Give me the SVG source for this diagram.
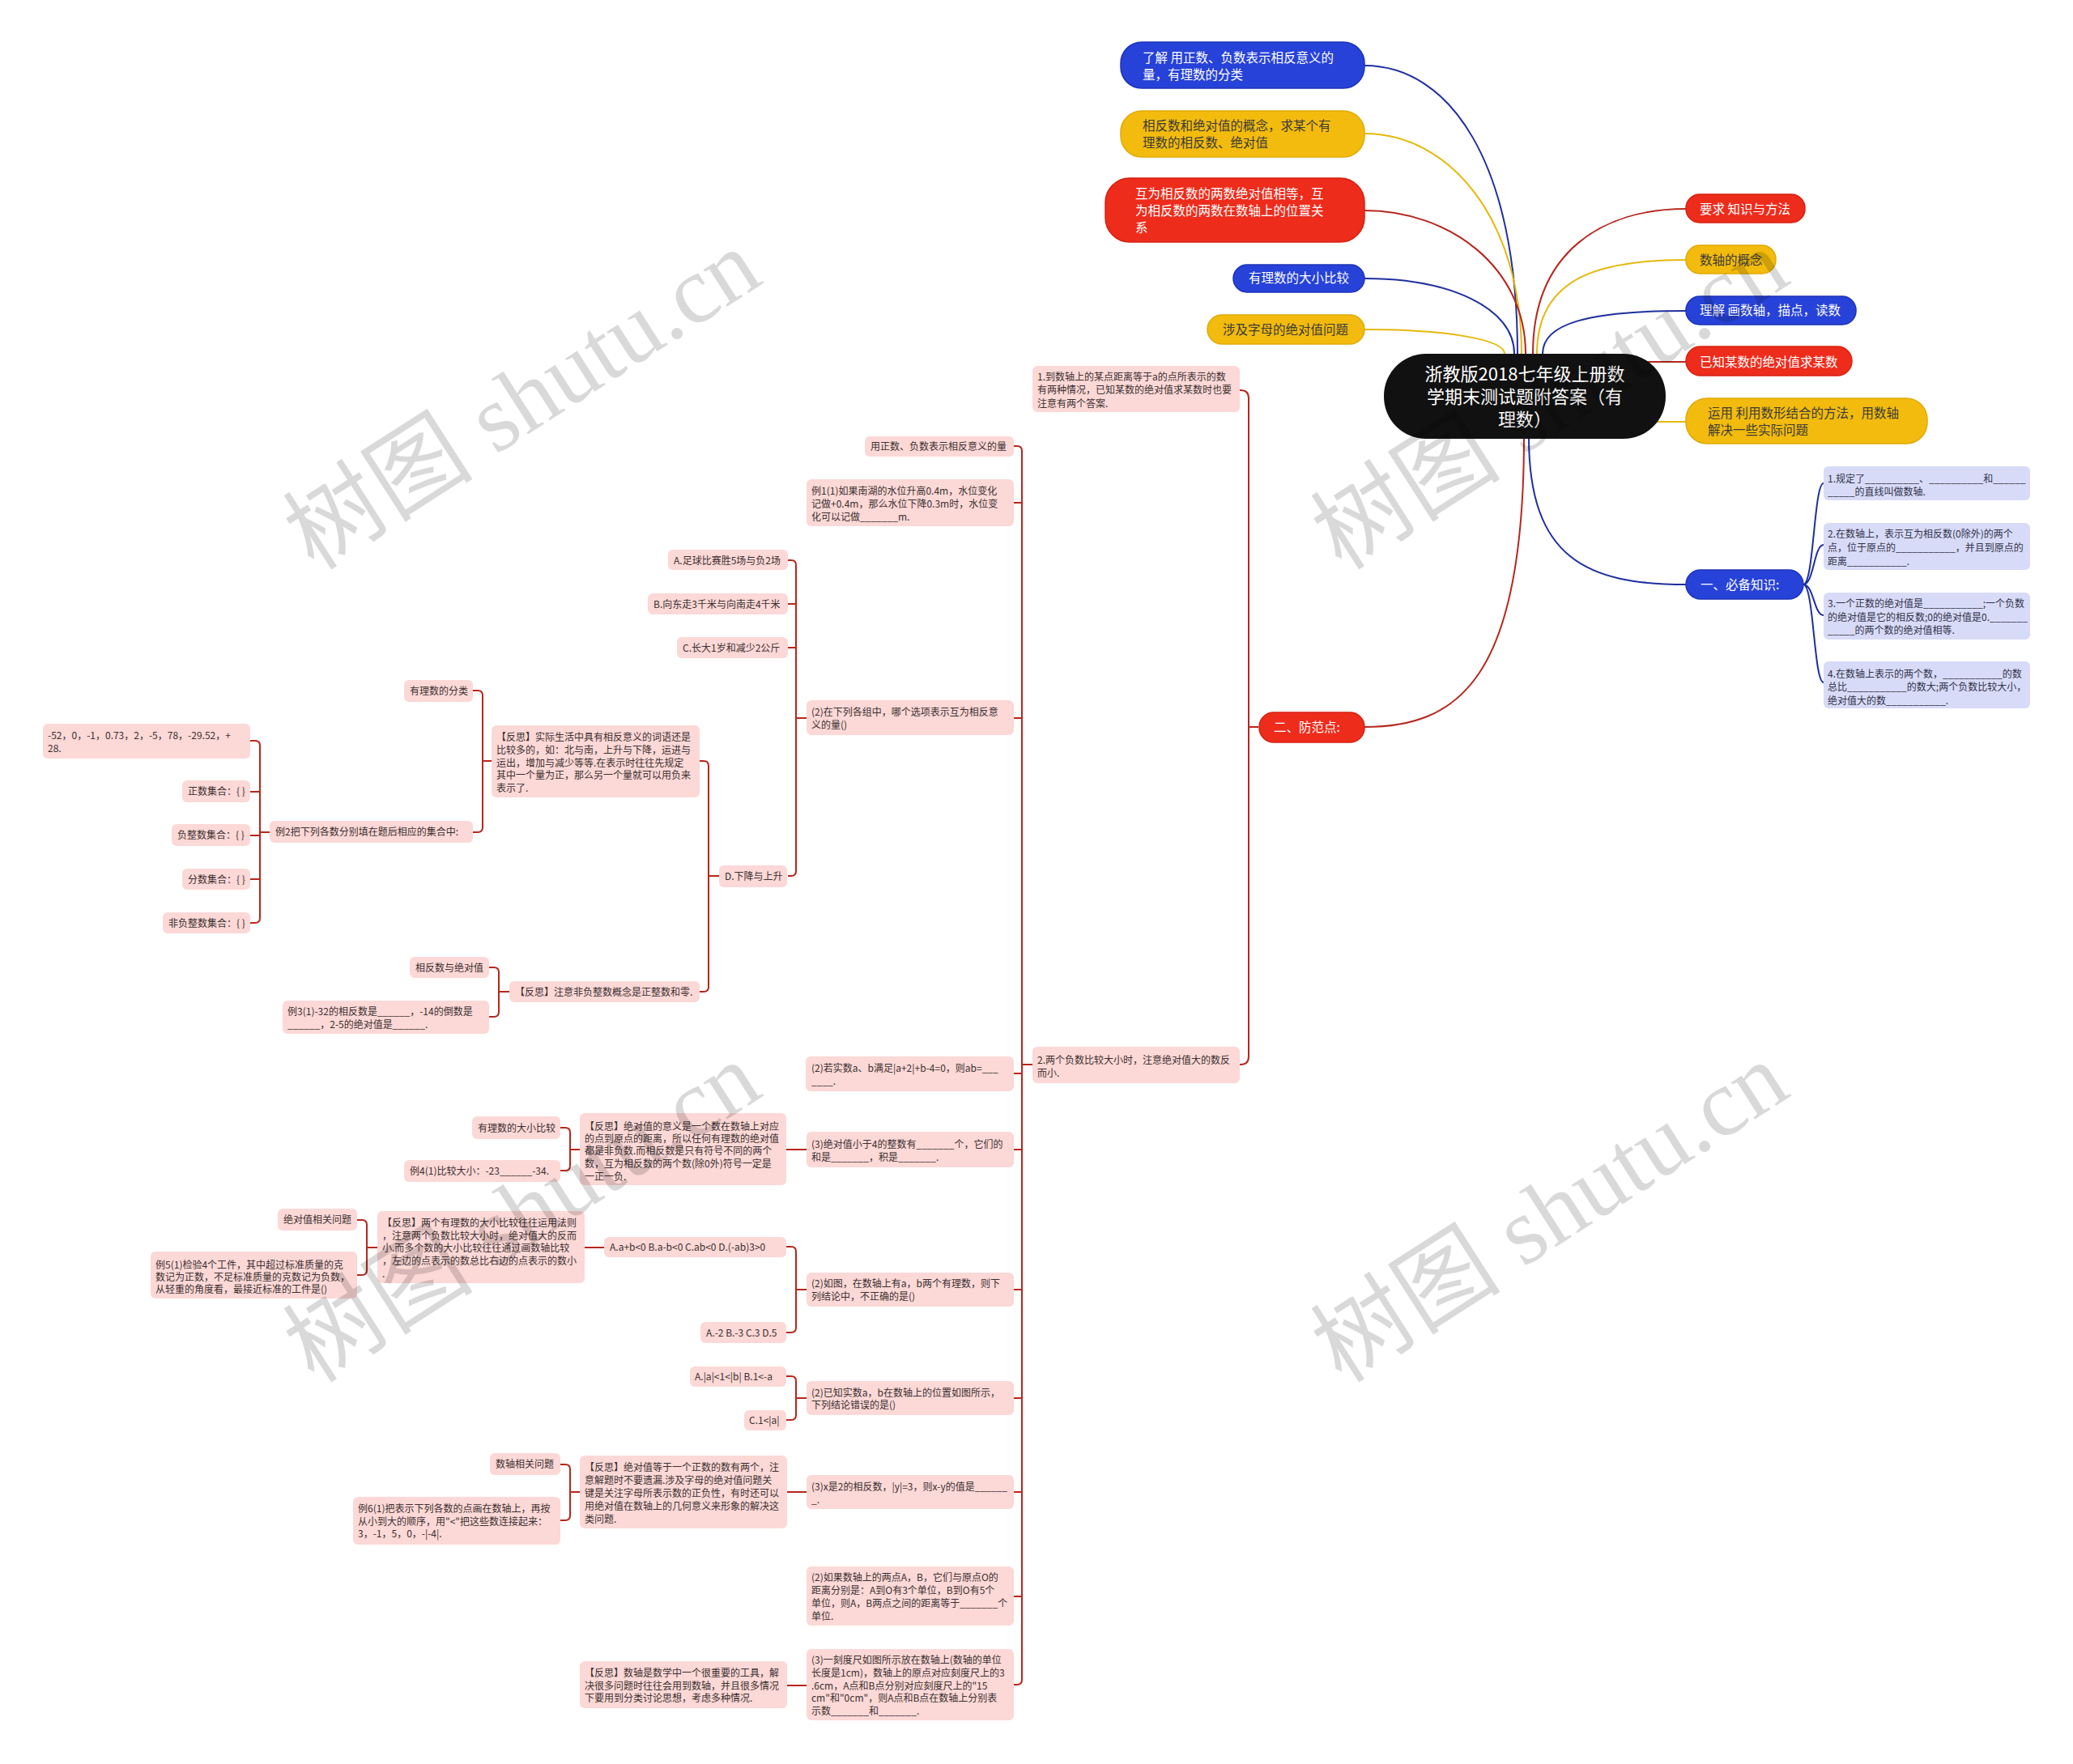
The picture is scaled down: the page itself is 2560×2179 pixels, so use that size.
<svg xmlns="http://www.w3.org/2000/svg" width="2560" height="2179" viewBox="0 0 2560 2179">
<style>
text{font-family:"Noto Sans CJK SC","Noto Sans",sans-serif;}
.bg{fill:#ffffff}
.pk{fill:#fcd8d6}
.lv{fill:#d8dbf7}
.bl{fill:#2742d8;stroke:#1d33b8;stroke-width:1.5}
.ye{fill:#f2bb0e;stroke:#e0aa05;stroke-width:1.5}
.rd{fill:#ee2c1c;stroke:#d62010;stroke-width:1.5}
.t12{font-size:12px;fill:#3a3030}
.t12b{font-size:12px;fill:#30324a}
.tw{font-size:15.5px;fill:#ffffff}
.td{font-size:15.5px;fill:#3a3a3a}
.tc{font-size:22px;fill:#ffffff;text-anchor:middle}
.cr{fill:none;stroke:#b8261c;stroke-width:2}
.cb{fill:none;stroke:#1f2f9e;stroke-width:2}
.cy{fill:none;stroke:#e6b80c;stroke-width:2}
.cR{fill:none;stroke:#b5281e;stroke-width:2}
.wm{font-family:"Liberation Serif","Noto Sans CJK SC",serif;font-size:118px;fill:#000;fill-opacity:0.15}
</style>
<rect class="bg" x="0" y="0" width="2560" height="2179"/>
<g id="connectors">
<path class="cb" d="M1685,81 C1790,81 1874,200 1874,437"/>
<path class="cy" d="M1685,165 C1790,165 1879,270 1879,437"/>
<path class="cR" d="M1685,260 C1790,260 1884,330 1884,437"/>
<path class="cb" d="M1685,344 C1790,344 1870,380 1870,437"/>
<path class="cy" d="M1685,407 C1790,407 1858,420 1858,437"/>
<path class="cR" d="M1893,437 C1893,310 1980,258 2082,258"/>
<path class="cy" d="M1898,437 C1898,340 1980,321 2082,321"/>
<path class="cb" d="M1905,437 C1905,400 1960,384 2082,384"/>
<path class="cR" d="M2030,447 H2082"/>
<path class="cy" d="M2044,521 H2082"/>
<path class="cb" d="M1888,540 C1888,690 1960,722 2082,722"/>
<path class="cR" d="M1882,540 C1882,840 1800,898 1685,898"/>
<path class="cb" d="M2227,722 C2240,722 2240,597 2252,597 M2227,722 C2240,722 2240,673 2252,673 M2227,722 C2240,722 2240,760 2252,760 M2227,722 C2240,722 2240,843 2252,843"/>
<path class="cr" d="M1531,482 H1532 Q1542,482 1542,492 V1305 Q1542,1315 1532,1315 H1531 M1542,898 H1554"/>
<path class="cr" d="M1252,551 H1256 Q1262,551 1262,557 V2075 Q1262,2081 1256,2081 H1252 M1252,621 H1262 M1252,887 H1262 M1252,1326 H1262 M1252,1420 H1262 M1252,1593 H1262 M1252,1727 H1262 M1252,1843 H1262 M1252,1972 H1262 M1262,1315 H1275"/>
<path class="cr" d="M973,692 H977 Q983,692 983,698 V1076 Q983,1082 977,1082 H973 M973,746 H983 M973,800 H983 M983,887 H996"/>
<path class="cr" d="M864,940 H869 Q875,940 875,946 V1219 Q875,1225 869,1225 H864 M875,1082 H888"/>
<path class="cr" d="M584,853 H590 Q596,853 596,859 V1022 Q596,1028 590,1028 H584 M596,940 H607"/>
<path class="cr" d="M309,915 H315 Q321,915 321,921 V1134 Q321,1140 315,1140 H309 M309,978 H321 M309,1032 H321 M309,1086 H321 M321,1028 H333"/>
<path class="cr" d="M604,1195 H610 Q616,1195 616,1201 V1250 Q616,1256 610,1256 H604 M616,1225 H629"/>
<path class="cr" d="M971,1420 H996"/>
<path class="cr" d="M692,1393 H698 Q704,1393 704,1399 V1440 Q704,1446 698,1446 H692 M704,1420 H716"/>
<path class="cr" d="M971,1540 H977 Q983,1540 983,1546 V1640 Q983,1646 977,1646 H971 M983,1593 H996"/>
<path class="cr" d="M722,1541 H746"/>
<path class="cr" d="M441,1507 H447 Q453,1507 453,1513 V1569 Q453,1575 447,1575 H441 M453,1541 H466"/>
<path class="cr" d="M971,1700 H977 Q983,1700 983,1706 V1748 Q983,1754 977,1754 H971 M983,1727 H996"/>
<path class="cr" d="M972,1843 H996"/>
<path class="cr" d="M692,1809 H698 Q704,1809 704,1815 V1872 Q704,1878 698,1878 H692 M704,1843 H716"/>
<path class="cr" d="M972,2082 H996"/>
</g>

<g id="center">
<rect x="1709" y="437" width="348" height="105" rx="52" fill="#111111"/>
<text class="tc" x="1883" y="470">浙教版2018七年级上册数</text>
<text class="tc" x="1883" y="498">学期末测试题附答案（有</text>
<text class="tc" x="1883" y="526">理数）</text>
</g>

<g id="n-l1"><rect class="bl" x="1384" y="52" width="301" height="57" rx="26"/>
<text class="tw" x="1411" y="77">了解 用正数、负数表示相反意义的</text><text class="tw" x="1411" y="98">量，有理数的分类</text></g>
<g id="n-l2"><rect class="ye" x="1384" y="137" width="301" height="57" rx="26"/>
<text class="td" x="1411" y="161">相反数和绝对值的概念，求某个有</text><text class="td" x="1411" y="182">理数的相反数、绝对值</text></g>
<g id="n-l3"><rect class="rd" x="1365" y="220" width="320" height="79" rx="30"/>
<text class="tw" x="1402" y="245">互为相反数的两数绝对值相等，互</text><text class="tw" x="1402" y="266">为相反数的两数在数轴上的位置关</text><text class="tw" x="1402" y="287">系</text></g>
<g id="n-l4"><rect class="bl" x="1523" y="327" width="162" height="34" rx="17"/>
<text class="tw" x="1542" y="349">有理数的大小比较</text></g>
<g id="n-l5"><rect class="ye" x="1491" y="389" width="194" height="36" rx="18"/>
<text class="td" x="1510" y="413">涉及字母的绝对值问题</text></g>

<g id="n-r1"><rect class="rd" x="2082" y="240" width="147" height="35" rx="17"/>
<text class="tw" x="2099" y="264">要求 知识与方法</text></g>
<g id="n-r2"><rect class="ye" x="2082" y="303" width="111" height="35" rx="17"/>
<text class="td" x="2099" y="327">数轴的概念</text></g>
<g id="n-r3"><rect class="bl" x="2082" y="366" width="210" height="35" rx="17"/>
<text class="tw" x="2099" y="389">理解 画数轴，描点，读数</text></g>
<g id="n-r4"><rect class="rd" x="2082" y="428" width="205" height="36" rx="18"/>
<text class="tw" x="2099" y="453">已知某数的绝对值求某数</text></g>
<g id="n-r5"><rect class="ye" x="2082" y="492" width="298" height="56" rx="26"/>
<text class="td" x="2109" y="516">运用 利用数形结合的方法，用数轴</text><text class="td" x="2109" y="537">解决一些实际问题</text></g>
<g id="n-r6"><rect class="bl" x="2082" y="704" width="145" height="36" rx="18"/>
<text class="tw" x="2100" y="728">一、必备知识:</text></g>
<g id="n-r7"><rect class="rd" x="1555" y="880" width="130" height="37" rx="18"/>
<text class="tw" x="1573" y="904">二、防范点:</text></g>

<g id="k1"><rect class="lv" x="2252" y="576" width="255" height="42" rx="6"/>
<text class="t12b" x="2257" y="595.5">1.规定了__________、__________和______</text><text class="t12b" x="2257" y="611.5">_____的直线叫做数轴.</text></g>
<g id="k2"><rect class="lv" x="2252" y="646" width="255" height="58" rx="6"/>
<text class="t12b" x="2257" y="663.5">2.在数轴上，表示互为相反数(0除外)的两个</text><text class="t12b" x="2257" y="680.5">点，位于原点的___________，并且到原点的</text><text class="t12b" x="2257" y="697.5">距离___________.</text></g>
<g id="k3"><rect class="lv" x="2252" y="732" width="255" height="58" rx="6"/>
<text class="t12b" x="2257" y="749.5">3.一个正数的绝对值是___________;一个负数</text><text class="t12b" x="2257" y="766.5">的绝对值是它的相反数;0的绝对值是0._______</text><text class="t12b" x="2257" y="782.5">_____的两个数的绝对值相等.</text></g>
<g id="k4"><rect class="lv" x="2252" y="817" width="255" height="58" rx="6"/>
<text class="t12b" x="2257" y="836.5">4.在数轴上表示的两个数，___________的数</text><text class="t12b" x="2257" y="852.5">总比___________的数大;两个负数比较大小，</text><text class="t12b" x="2257" y="869.5">绝对值大的数___________.</text></g>

<g id="pA"><rect class="pk" x="1275" y="452" width="256" height="57" rx="6"/>
<text class="t12" x="1281" y="470">1.到数轴上的某点距离等于a的点所表示的数</text><text class="t12" x="1281" y="486">有两种情况，已知某数的绝对值求某数时也要</text><text class="t12" x="1281" y="502.5">注意有两个答案.</text></g>
<g id="pB"><rect class="pk" x="1275" y="1293" width="256" height="45" rx="6"/>
<text class="t12" x="1281" y="1313.5">2.两个负数比较大小时，注意绝对值大的数反</text><text class="t12" x="1281" y="1329.5">而小.</text></g>

<g id="a1"><rect class="pk" x="1068" y="539" width="184" height="25" rx="6"/>
<text class="t12" x="1075" y="555.5">用正数、负数表示相反意义的量</text></g>
<g id="a2"><rect class="pk" x="996" y="592" width="256" height="58" rx="6"/>
<text class="t12" x="1002" y="610.5">例1(1)如果南湖的水位升高0.4m，水位变化</text><text class="t12" x="1002" y="626.5">记做+0.4m，那么水位下降0.3m时，水位变</text><text class="t12" x="1002" y="642.5">化可以记做_______m.</text></g>
<g id="a3"><rect class="pk" x="996" y="865" width="256" height="43" rx="6"/>
<text class="t12" x="1002" y="883.5">(2)在下列各组中，哪个选项表示互为相反意</text><text class="t12" x="1002" y="899.5">义的量()</text></g>
<g id="a4"><rect class="pk" x="995" y="1305" width="257" height="43" rx="6"/>
<text class="t12" x="1002" y="1323.5">(2)若实数a、b满足|a+2|+b-4=0，则ab=___</text><text class="t12" x="1002" y="1339.5">____.</text></g>
<g id="a5"><rect class="pk" x="996" y="1398" width="256" height="44" rx="6"/>
<text class="t12" x="1002" y="1417.5">(3)绝对值小于4的整数有_______个，它们的</text><text class="t12" x="1002" y="1433.5">和是_______，积是_______.</text></g>
<g id="a6"><rect class="pk" x="996" y="1572" width="256" height="42" rx="6"/>
<text class="t12" x="1002" y="1589.5">(2)如图，在数轴上有a，b两个有理数，则下</text><text class="t12" x="1002" y="1605.5">列结论中，不正确的是()</text></g>
<g id="a7"><rect class="pk" x="996" y="1706" width="256" height="42" rx="6"/>
<text class="t12" x="1002" y="1724.5">(2)已知实数a，b在数轴上的位置如图所示，</text><text class="t12" x="1002" y="1740">下列结论错误的是()</text></g>
<g id="a8"><rect class="pk" x="996" y="1822" width="256" height="42" rx="6"/>
<text class="t12" x="1002" y="1840.5">(3)x是2的相反数，|y|=3，则x-y的值是______</text><text class="t12" x="1002" y="1856.5">_.</text></g>
<g id="a9"><rect class="pk" x="996" y="1935" width="256" height="73" rx="6"/>
<text class="t12" x="1002" y="1952.5">(2)如果数轴上的两点A，B，它们与原点O的</text><text class="t12" x="1002" y="1968.5">距离分别是：A到O有3个单位，B到O有5个</text><text class="t12" x="1002" y="1984.5">单位，则A，B两点之间的距离等于_______个</text><text class="t12" x="1002" y="2000.5">单位.</text></g>
<g id="a10"><rect class="pk" x="996" y="2037" width="256" height="88" rx="6"/>
<text class="t12" x="1002" y="2054.5">(3)一刻度尺如图所示放在数轴上(数轴的单位</text><text class="t12" x="1002" y="2070.5">长度是1cm)，数轴上的原点对应刻度尺上的3</text><text class="t12" x="1002" y="2086.5">.6cm，A点和B点分别对应刻度尺上的"15</text><text class="t12" x="1002" y="2101.5">cm"和"0cm"，则A点和B点在数轴上分别表</text><text class="t12" x="1002" y="2117.5">示数_______和_______.</text></g>

<g id="o1"><rect class="pk" x="825" y="679" width="148" height="25" rx="6"/><text class="t12" x="832" y="696.5">A.足球比赛胜5场与负2场</text></g>
<g id="o2"><rect class="pk" x="800" y="733" width="173" height="26" rx="6"/><text class="t12" x="807" y="750.5">B.向东走3千米与向南走4千米</text></g>
<g id="o3"><rect class="pk" x="836" y="787" width="137" height="26" rx="6"/><text class="t12" x="843" y="804.5">C.长大1岁和减少2公斤</text></g>
<g id="o4"><rect class="pk" x="888" y="1069" width="84" height="27" rx="6"/><text class="t12" x="895" y="1087">D.下降与上升</text></g>

<g id="r1"><rect class="pk" x="607" y="896" width="257" height="89" rx="6"/>
<text class="t12" x="613" y="914.5">【反思】实际生活中具有相反意义的词语还是</text><text class="t12" x="613" y="930.5">比较多的，如：北与南，上升与下降，运进与</text><text class="t12" x="613" y="946.5">运出，增加与减少等等.在表示时往往先规定</text><text class="t12" x="613" y="961.5">其中一个量为正，那么另一个量就可以用负来</text><text class="t12" x="613" y="977.5">表示了.</text></g>
<g id="r2"><rect class="pk" x="629" y="1212" width="235" height="26" rx="6"/><text class="t12" x="636" y="1229.5">【反思】注意非负整数概念是正整数和零.</text></g>
<g id="c1"><rect class="pk" x="499" y="840" width="85" height="27" rx="6"/><text class="t12" x="506" y="858">有理数的分类</text></g>
<g id="c2"><rect class="pk" x="333" y="1014" width="251" height="27" rx="6"/><text class="t12" x="340" y="1032">例2把下列各数分别填在题后相应的集合中:</text></g>
<g id="s1"><rect class="pk" x="53" y="894" width="256" height="43" rx="6"/><text class="t12" x="59" y="912.5">-52，0，-1，0.73，2，-5，78，-29.52，+</text><text class="t12" x="59" y="928.5">28.</text></g>
<g id="s2"><rect class="pk" x="225" y="964" width="84" height="27" rx="6"/><text class="t12" x="232" y="982">正数集合：{ }</text></g>
<g id="s3"><rect class="pk" x="212" y="1018" width="97" height="27" rx="6"/><text class="t12" x="219" y="1036">负整数集合：{ }</text></g>
<g id="s4"><rect class="pk" x="225" y="1073" width="84" height="26" rx="6"/><text class="t12" x="232" y="1090.5">分数集合：{ }</text></g>
<g id="s5"><rect class="pk" x="201" y="1127" width="108" height="26" rx="6"/><text class="t12" x="208" y="1144.5">非负整数集合：{ }</text></g>
<g id="c3"><rect class="pk" x="506" y="1182" width="98" height="26" rx="6"/><text class="t12" x="513" y="1199.5">相反数与绝对值</text></g>
<g id="c4"><rect class="pk" x="349" y="1236" width="255" height="41" rx="6"/><text class="t12" x="355" y="1253.5">例3(1)-32的相反数是______，-14的倒数是</text><text class="t12" x="355" y="1269.5">______，2-5的绝对值是______.</text></g>

<g id="r3"><rect class="pk" x="716" y="1375" width="255" height="89" rx="6"/>
<text class="t12" x="722" y="1395.5">【反思】绝对值的意义是一个数在数轴上对应</text><text class="t12" x="722" y="1410.5">的点到原点的距离，所以任何有理数的绝对值</text><text class="t12" x="722" y="1425.5">都是非负数.而相反数是只有符号不同的两个</text><text class="t12" x="722" y="1441.5">数，互为相反数的两个数(除0外)符号一定是</text><text class="t12" x="722" y="1457.5">一正一负.</text></g>
<g id="c5"><rect class="pk" x="583" y="1379" width="109" height="28" rx="6"/><text class="t12" x="590" y="1397.5">有理数的大小比较</text></g>
<g id="c6"><rect class="pk" x="499" y="1433" width="193" height="27" rx="6"/><text class="t12" x="506" y="1451">例4(1)比较大小：-23______-34.</text></g>

<g id="o5"><rect class="pk" x="746" y="1528" width="225" height="25" rx="6"/><text class="t12" x="753" y="1544.5">A.a+b&lt;0 B.a-b&lt;0 C.ab&lt;0 D.(-ab)3&gt;0</text></g>
<g id="o6"><rect class="pk" x="865" y="1633" width="106" height="26" rx="6"/><text class="t12" x="872" y="1650.5">A.-2 B.-3 C.3 D.5</text></g>
<g id="r4"><rect class="pk" x="466" y="1496" width="256" height="89" rx="6"/>
<text class="t12" x="472" y="1514.5">【反思】两个有理数的大小比较往往运用法则</text><text class="t12" x="472" y="1530.5">，注意两个负数比较大小时，绝对值大的反而</text><text class="t12" x="472" y="1545.5">小.而多个数的大小比较往往通过画数轴比较</text><text class="t12" x="472" y="1561.5">，左边的点表示的数总比右边的点表示的数小</text><text class="t12" x="472" y="1577.5">.</text></g>
<g id="c7"><rect class="pk" x="343" y="1493" width="98" height="27" rx="6"/><text class="t12" x="350" y="1511">绝对值相关问题</text></g>
<g id="c8"><rect class="pk" x="186" y="1546" width="255" height="58" rx="6"/><text class="t12" x="192" y="1566.5">例5(1)检验4个工件，其中超过标准质量的克</text><text class="t12" x="192" y="1581.5">数记为正数，不足标准质量的克数记为负数，</text><text class="t12" x="192" y="1596.5">从轻重的角度看，最接近标准的工件是()</text></g>

<g id="o7"><rect class="pk" x="852" y="1688" width="119" height="25" rx="6"/><text class="t12" x="858" y="1704.5">A.|a|&lt;1&lt;|b| B.1&lt;-a</text></g>
<g id="o8"><rect class="pk" x="919" y="1742" width="52" height="25" rx="6"/><text class="t12" x="925" y="1758.5">C.1&lt;|a|</text></g>

<g id="r5"><rect class="pk" x="716" y="1798" width="256" height="90" rx="6"/>
<text class="t12" x="722" y="1816.5">【反思】绝对值等于一个正数的数有两个，注</text><text class="t12" x="722" y="1832.5">意解题时不要遗漏.涉及字母的绝对值问题关</text><text class="t12" x="722" y="1848.5">键是关注字母所表示数的正负性，有时还可以</text><text class="t12" x="722" y="1864.5">用绝对值在数轴上的几何意义来形象的解决这</text><text class="t12" x="722" y="1880.5">类问题.</text></g>
<g id="c9"><rect class="pk" x="605" y="1795" width="87" height="27" rx="6"/><text class="t12" x="612" y="1813">数轴相关问题</text></g>
<g id="c10"><rect class="pk" x="436" y="1849" width="256" height="59" rx="6"/><text class="t12" x="442" y="1867.5">例6(1)把表示下列各数的点画在数轴上，再按</text><text class="t12" x="442" y="1883.5">从小到大的顺序，用"&lt;"把这些数连接起来：</text><text class="t12" x="442" y="1898.5">3，-1，5，0，-|-4|.</text></g>
<g id="r6"><rect class="pk" x="716" y="2052" width="256" height="58" rx="6"/>
<text class="t12" x="722" y="2070.5">【反思】数轴是数学中一个很重要的工具，解</text><text class="t12" x="722" y="2086.5">决很多问题时往往会用到数轴，并且很多情况</text><text class="t12" x="722" y="2101.5">下要用到分类讨论思想，考虑多种情况.</text></g>

<g id="watermarks">
<text class="wm" x="388" y="706" transform="rotate(-32.7 388 706)">树图 shutu.cn</text>
<text class="wm" x="1657" y="706" transform="rotate(-32.7 1657 706)">树图 shutu.cn</text>
<text class="wm" x="388" y="1710" transform="rotate(-32.7 388 1710)">树图 shutu.cn</text>
<text class="wm" x="1657" y="1710" transform="rotate(-32.7 1657 1710)">树图 shutu.cn</text>
</g>
</svg>
